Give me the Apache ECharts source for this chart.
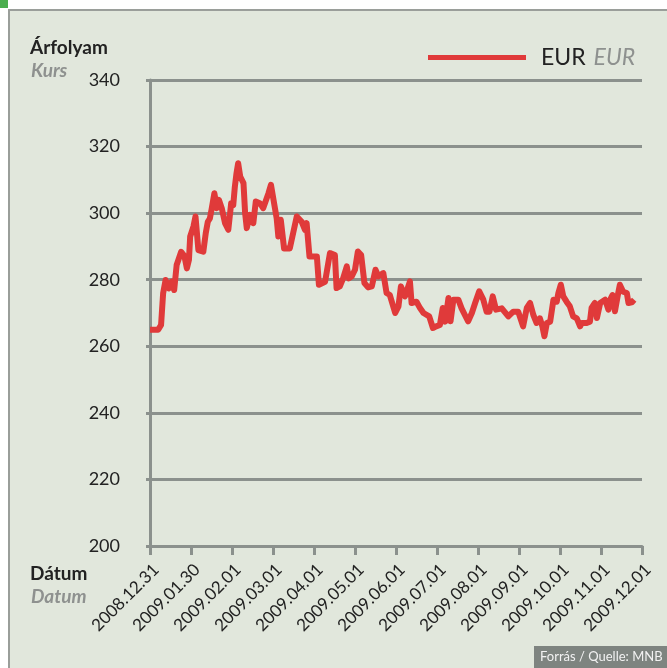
<!DOCTYPE html>
<html>
<head>
    <meta charset="UTF-8"/>
    <title>EUR árfolyam</title>
    <script src="https://cdn.jsdelivr.net/npm/echarts@6/dist/echarts.min.js"></script>
    <style>
        html, body { margin: 0; padding: 0; background: #fff; }
    </style>
</head>
<body>
<div id="main" style="width: 667px;height:668px;"></div>
<script>
    // tick labels, evenly spaced on the x axis (one slot each)
    var dateLabels = ['2008.12.31', '2009.01.30', '2009.02.01', '2009.03.01', '2009.04.01',
        '2009.05.01', '2009.06.01', '2009.07.01', '2009.08.01', '2009.09.01',
        '2009.10.01', '2009.11.01', '2009.12.01'];

    // position of each reading, in label slots from 2008.12.31
    var eurPos = [0, 0.20, 0.27, 0.32, 0.38, 0.46, 0.53, 0.59, 0.65, 0.76,
        0.84, 0.90, 0.95, 0.98, 1.06, 1.11, 1.18, 1.30, 1.36, 1.41,
        1.46, 1.50, 1.57, 1.63, 1.68, 1.75, 1.83, 1.91, 1.98, 2.03,
        2.07, 2.11, 2.15, 2.20, 2.28, 2.32, 2.36, 2.44, 2.52, 2.58,
        2.68, 2.76, 2.89, 2.95, 3.09, 3.13, 3.19, 3.27, 3.41, 3.58,
        3.70, 3.78, 3.82, 3.89, 4.07, 4.12, 4.27, 4.39, 4.51, 4.55,
        4.63, 4.71, 4.80, 4.85, 4.92, 5.00, 5.07, 5.15, 5.23, 5.32,
        5.41, 5.50, 5.57, 5.69, 5.77, 5.85, 5.98, 6.06, 6.12, 6.22,
        6.34, 6.38, 6.50, 6.59, 6.67, 6.81, 6.90, 6.98, 7.07, 7.14,
        7.20, 7.28, 7.33, 7.40, 7.52, 7.60, 7.68, 7.76, 7.85, 7.93,
        8.03, 8.13, 8.21, 8.28, 8.36, 8.44, 8.58, 8.74, 8.86, 8.98,
        9.10, 9.19, 9.27, 9.35, 9.43, 9.51, 9.57, 9.62, 9.68, 9.76,
        9.84, 9.92, 9.96, 10.02, 10.08, 10.16, 10.24, 10.32, 10.41, 10.49,
        10.53, 10.65, 10.73, 10.77, 10.85, 10.90, 10.98, 11.10, 11.18, 11.24,
        11.28, 11.34, 11.42, 11.46, 11.54, 11.63, 11.67, 11.75, 11.81];

    // EUR/HUF rate
    var eurValues = [265, 265, 266.4, 275.9, 279.9, 277.4, 279.4, 276.9, 284.4, 288.4,
        287.1, 283.4, 286, 293, 296, 299, 288.9, 288.4, 294, 297.4,
        298.4, 301, 306, 301.5, 304, 301.5, 297, 295, 303, 302.4,
        308, 312, 315, 311, 309, 300, 295.5, 299.5, 297, 303.5,
        303, 301.5, 306, 308.5, 298.4, 293, 298, 289.4, 289.4, 299,
        297.4, 295, 297, 287, 287, 278.5, 279.4, 288, 287.4, 277.5,
        278, 280.4, 284, 280.4, 281, 283, 288.5, 287.4, 279, 277.7,
        278, 283, 281, 282, 276, 275.4, 270, 272, 278, 275,
        279.5, 273, 273.4, 271.4, 270, 269, 265.5, 266, 266.4, 271.5,
        267.4, 274.5, 267.5, 274, 274, 271.4, 269.4, 267.5, 270, 273,
        276.5, 274, 270.4, 270.4, 275, 271, 271.4, 269, 270.4, 270.4,
        266, 271.5, 273, 269.4, 267, 268.4, 266, 263, 267, 267.4,
        274, 273.4, 276, 278.5, 275, 273.4, 272, 269, 268.4, 266,
        267, 267, 267.4, 271.5, 273, 268.5, 273, 274, 271, 274.4,
        275.4, 270.5, 276, 278.5, 276.4, 276, 273, 273.2, 274];

    var yTicks = { min: 200, max: 340, step: 20 };

    var seriesData = eurPos.map(function (p, i) { return [p, eurValues[i]]; });

    var gridGrey = '#8b918d';
    var fontName = 'Lato';

    var myChart = echarts.init(document.getElementById('main'));

    var option = {
        backgroundColor: '#ffffff',
        animation: false,
        textStyle: { fontFamily: fontName },
        graphic: [
            // panel
            { type: 'rect', z: -10, shape: { x: 9, y: 10, width: 670, height: 670 },
              style: { fill: '#e1e7dc', stroke: '#9a9e9a', lineWidth: 2 } },
            { type: 'rect', z: -9, shape: { x: 0, y: 0, width: 8, height: 8 },
              style: { fill: '#4cae4f' } },
            // axis captions
            { type: 'text', left: 30, top: 38,
              style: { text: 'Árfolyam', font: 'bold 19px ' + fontName, fill: '#222' } },
            { type: 'text', left: 31, top: 61,
              style: { text: 'Kurs', font: 'italic bold 19px ' + fontName, fill: '#8e918f' } },
            { type: 'text', left: 30, top: 564,
              style: { text: 'Dátum', font: 'bold 19px ' + fontName, fill: '#222' } },
            { type: 'text', left: 31, top: 587,
              style: { text: 'Datum', font: 'italic bold 19px ' + fontName, fill: '#8e918f' } },
            // source box
            { type: 'rect', shape: { x: 534, y: 646, width: 140, height: 24 },
              style: { fill: '#7e8480' } },
            { type: 'text', left: 540, top: 650,
              style: { text: 'Forrás / Quelle: MNB', font: '13px ' + fontName, fill: '#f2f2f2' } }
        ],
        legend: {
            left: 428,
            top: 46,
            padding: 0,
            icon: 'rect',
            itemWidth: 98,
            itemHeight: 5,
            data: ['EUR'],
            formatter: '{a|EUR}{i|EUR}',
            textStyle: {
                rich: {
                    a: { fontSize: 23, color: '#222', fontFamily: fontName, padding: [0, 8, 0, 10] },
                    i: { fontSize: 23, color: '#8e918f', fontStyle: 'italic', fontFamily: fontName }
                }
            }
        },
        grid: {
            left: 150,
            top: 80,
            width: 492,
            height: 466
        },
        xAxis: {
            type: 'value',
            min: 0,
            max: dateLabels.length - 1,
            interval: 1,
            axisLine: { lineStyle: { color: gridGrey, width: 3 } },
            axisTick: { length: 9, lineStyle: { color: gridGrey, width: 3 } },
            splitLine: { show: false },
            axisLabel: {
                rotate: 45,
                margin: 15,
                fontSize: 17,
                color: '#222',
                verticalAlign: 'top',
                showMaxLabel: true,
                formatter: function (v) { return dateLabels[Math.round(v)]; }
            }
        },
        yAxis: {
            type: 'value',
            min: yTicks.min,
            max: yTicks.max,
            interval: yTicks.step,
            axisLine: { show: true, lineStyle: { color: gridGrey, width: 3 } },
            axisTick: { show: true, length: 4, lineStyle: { color: gridGrey, width: 3 } },
            splitLine: { lineStyle: { color: gridGrey, width: 3 } },
            axisLabel: { margin: 30, fontSize: 18, color: '#222' }
        },
        series: [{
            name: 'EUR',
            type: 'line',
            data: seriesData,
            showSymbol: false,
            color: '#e03a3a',
            lineStyle: { width: 6, color: '#e03a3a', join: 'round' }
        }]
    };

    myChart.setOption(option);
</script>
</body>
</html>
